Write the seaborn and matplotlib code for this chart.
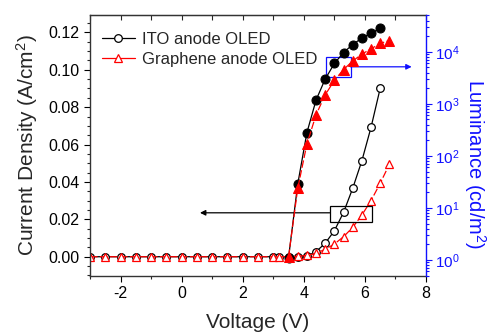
import numpy as np
import matplotlib
matplotlib.use("Agg")
import matplotlib.pyplot as plt
import seaborn as sns
from matplotlib.patches import Rectangle
from matplotlib.ticker import MultipleLocator, LogLocator, NullFormatter

# --- data ---
# current density (open markers, left axis)
v_cd = [-3.0, -2.5, -2.0, -1.5, -1.0, -0.5, 0.0, 0.5, 1.0, 1.5, 2.0, 2.5, 3.0,
        3.2, 3.5, 3.8, 4.1, 4.4, 4.7, 5.0, 5.3, 5.6, 5.9, 6.2, 6.5, 6.8]
cd_ito = [0, 0, 0, 0, 0, 0, 0, 0, 0, 0, 0, 0, 0,
          0, 0, 0.0001, 0.0004, 0.0027, 0.0072, 0.0139, 0.0237, 0.0366,
          0.0513, 0.0692, 0.0901]
cd_graphene = [0, 0, 0, 0, 0, 0, 0, 0, 0, 0, 0, 0, 0,
               0, 0, 0.0002, 0.0007, 0.0018, 0.0040, 0.0068, 0.0107, 0.0157,
               0.0223, 0.0300, 0.0393, 0.0494]

# luminance (filled markers, right axis)
v_lum = [3.5, 3.8, 4.1, 4.4, 4.7, 5.0, 5.3, 5.6, 5.9, 6.2, 6.5, 6.8]
lum_ito = [1.1, 28.5, 278, 1180, 3000, 5970, 9700, 13800, 18400, 22800, 28200]
lum_graphene = [1.15, 23.6, 168, 615, 1490, 2820, 4560, 6640, 9040, 11400,
                14500, 16500]

sns.set_style("ticks")
plt.rcParams["font.family"] = ["Liberation Sans", "DejaVu Sans"]
plt.rcParams["mathtext.default"] = "regular"
plt.rcParams["axes.unicode_minus"] = False

fig = plt.figure(figsize=(4.9, 3.34), dpi=100)
ax = fig.add_axes([0.1837, 0.1737, 0.6857, 0.7813])
ax2 = ax.twinx()

blue = "#1010ff"
red = "#ff0000"

# current density curves
sns.lineplot(x=v_cd[:len(cd_ito)], y=cd_ito, ax=ax, color="black", lw=0.9,
             marker="o", ms=5.5, mfc="white", mec="black", mew=0.9,
             label="ITO anode OLED")
sns.lineplot(x=v_cd, y=cd_graphene, ax=ax, color=red, lw=0.9,
             linestyle=(0, (6, 2)), marker="^", ms=6, mfc="white", mec=red,
             mew=0.9, label="Graphene anode OLED")

# luminance curves
sns.lineplot(x=v_lum[:len(lum_ito)], y=lum_ito, ax=ax2, color="black", lw=0.9,
             marker="o", ms=6.5, mfc="black", mec="black", legend=False)
sns.lineplot(x=v_lum, y=lum_graphene, ax=ax2, color=red, lw=0.9,
             linestyle=(0, (6, 2)), marker="^", ms=7, mfc=red, mec=red,
             legend=False)

ax.set_xlim(-3, 8)
ax.set_ylim(-0.0103, 0.1293)
ax2.set_yscale("log")
ax2.set_ylim(0.49, 51000)

ax.xaxis.set_major_locator(MultipleLocator(2))
ax.xaxis.set_minor_locator(MultipleLocator(1))
ax.yaxis.set_major_locator(MultipleLocator(0.02))
ax.yaxis.set_minor_locator(MultipleLocator(0.005))
ax.yaxis.set_major_formatter(matplotlib.ticker.FormatStrFormatter("%.2f"))
ax2.yaxis.set_major_locator(LogLocator(base=10, numticks=10))
ax2.yaxis.set_minor_locator(LogLocator(base=10, subs=np.arange(2, 10), numticks=10))
ax2.yaxis.set_minor_formatter(NullFormatter())

ax.tick_params(axis="both", which="major", direction="out", length=4,
               width=0.8, labelsize=11.5, colors="black")
ax.tick_params(axis="both", which="minor", direction="out", length=2.5, width=0.8)
ax2.tick_params(axis="y", which="major", direction="out", length=4, width=0.8,
                labelsize=11, pad=2.5, colors=blue)
ax2.tick_params(axis="y", which="minor", direction="out", length=2.5,
                width=0.8, colors=blue)

# top ticks pointing inwards
top = ax.secondary_xaxis("top")
top.xaxis.set_major_locator(MultipleLocator(1))
top.tick_params(direction="in", length=3.5, width=0.8, labeltop=False)

for sp in ["left", "bottom", "top"]:
    ax.spines[sp].set_color("#333333")
    ax.spines[sp].set_linewidth(1.0)
ax.spines["right"].set_visible(False)
ax2.spines["right"].set_color(blue)
ax2.spines["right"].set_linewidth(1.0)
for sp in ["left", "bottom", "top"]:
    ax2.spines[sp].set_visible(False)
top.spines["top"].set_color("#333333")

ax.set_xlabel("Voltage (V)", fontsize=15, labelpad=8)
ax.set_ylabel("Current Density (A/cm$^2$)", fontsize=15, labelpad=6)
ax2.set_ylabel("Luminance (cd/m$^2$)", fontsize=14.5, color=blue,
               rotation=270, labelpad=20)
ax2.yaxis.set_label_coords(1.183, 0.43)

# annotation boxes and arrows
ax.add_patch(Rectangle((4.85, 0.0184), 1.37, 0.0089, fill=False,
                       edgecolor="black", lw=0.9, zorder=5))
ax.annotate("", xy=(0.6, 0.0235), xytext=(4.85, 0.0235),
            arrowprops=dict(arrowstyle="-|>", color="black", lw=0.9,
                            mutation_scale=8, shrinkA=0, shrinkB=0))
ax.add_patch(Rectangle((4.74, 0.0959), 0.79, 0.0111, fill=False,
                       edgecolor=blue, lw=0.9, zorder=5))
ax.annotate("", xy=(7.53, 0.1016), xytext=(5.53, 0.1016),
            arrowprops=dict(arrowstyle="-|>", color=blue, lw=0.9,
                            mutation_scale=8, shrinkA=0, shrinkB=0))

leg = ax.legend(loc="upper left", bbox_to_anchor=(0.0, 0.98), frameon=False,
                fontsize=12, handlelength=2.0, handletextpad=0.4,
                labelspacing=0.3, borderaxespad=0.3)
for line in leg.get_lines():
    line.set_linestyle("-")

fig.savefig("out.png", dpi=100)
